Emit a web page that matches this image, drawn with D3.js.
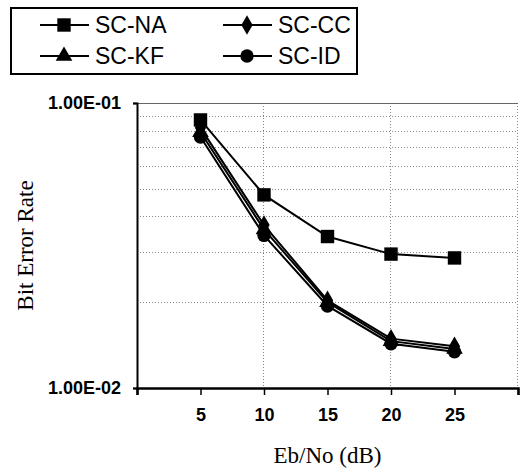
<!DOCTYPE html>
<html>
<head>
<meta charset="utf-8">
<script src="https://cdn.jsdelivr.net/npm/d3@7/dist/d3.min.js"></script>
<style>
  body { margin: 0; background: #fff; }
  svg { display: block; }
</style>
</head>
<body>
<script>
// Eb/No points
const ebno = [5, 10, 15, 20, 25];

// bit error rate per scheme
const scNA = [0.0872, 0.0476, 0.0340, 0.0295, 0.0286];
const scCC = [0.0818, 0.0373, 0.0203, 0.0149, 0.0140];
const scKF = [0.0790, 0.0360, 0.0200, 0.0146, 0.0137];
const scID = [0.0760, 0.0343, 0.0194, 0.0143, 0.0134];

const seriesNames = ['SC-NA', 'SC-CC', 'SC-KF', 'SC-ID'];
const seriesValues = [scNA, scCC, scKF, scID];
const markerTypes = [d3.symbolSquare, d3.symbolDiamond, d3.symbolTriangle, d3.symbolCircle];
const markerSizes = [180, 110, 120, 140];

const yTickLabels = ['1.00E-01', '1.00E-02'];

const width = 521, height = 470;
const margin = { left: 137, right: 3, top: 103, bottom: 82 };

const svg = d3.select('body').append('svg')
    .attr('width', width)
    .attr('height', height);

const x = d3.scaleLinear()
    .domain([0, 30])
    .range([margin.left, width - margin.right]);

const y = d3.scaleLog()
    .domain([0.01, 0.1])
    .range([height - margin.bottom, margin.top]);

// minor horizontal gridlines
const minorVals = d3.range(2, 10).map(d => d * 0.01);
svg.append('g')
    .selectAll('line')
    .data(minorVals)
    .join('line')
    .attr('x1', x(0))
    .attr('x2', x(30))
    .attr('y1', d => Math.round(y(d)) + 0.5)
    .attr('y2', d => Math.round(y(d)) + 0.5)
    .style('stroke', '#888')
    .style('stroke-width', 1)
    .style('stroke-dasharray', '1,2');

// vertical gridlines
svg.append('g')
    .selectAll('line')
    .data([10, 20, 30])
    .join('line')
    .attr('x1', d => Math.round(x(d)) - 0.5)
    .attr('x2', d => Math.round(x(d)) - 0.5)
    .attr('y1', y(0.1))
    .attr('y2', y(0.01))
    .style('stroke', '#888')
    .style('stroke-width', 1)
    .style('stroke-dasharray', '1,2');

// top border
svg.append('line')
    .attr('x1', x(0))
    .attr('x2', x(30))
    .attr('y1', y(0.1) + 0.5)
    .attr('y2', y(0.1) + 0.5)
    .style('stroke', '#666')
    .style('stroke-width', 1);

// x axis
const xAxis = svg.append('g')
    .attr('transform', `translate(0,${y(0.01)})`)
    .call(d3.axisBottom(x)
        .tickValues([0, 5, 10, 15, 20, 25, 30])
        .tickFormat(d => (d === 0 || d === 30) ? '' : d)
        .tickSize(7)
        .tickPadding(13));
xAxis.select('.domain').style('stroke', '#000').style('stroke-width', 2.5);
xAxis.selectAll('.tick line').style('stroke', '#000').style('stroke-width', 1.5);
xAxis.selectAll('.tick text')
    .style('font-family', '"Liberation Sans", Arial, sans-serif')
    .style('font-weight', 'bold')
    .style('font-size', '18px')
    .style('fill', '#000');

// y axis
const yAxis = svg.append('g')
    .attr('transform', `translate(${x(0)},0)`)
    .call(d3.axisLeft(y)
        .tickValues([0.1, 0.01])
        .tickFormat((d, i) => yTickLabels[i])
        .tickSize(4)
        .tickPadding(12));
yAxis.select('.domain').style('stroke', '#000').style('stroke-width', 2);
yAxis.selectAll('.tick line').style('stroke', '#000').style('stroke-width', 1.5);
yAxis.selectAll('.tick text')
    .style('font-family', '"Liberation Sans", Arial, sans-serif')
    .style('font-weight', 'bold')
    .style('font-size', '18px')
    .style('fill', '#000');

// series lines and markers
const line = d3.line()
    .x((d, i) => x(ebno[i]))
    .y(d => y(d));

seriesValues.forEach((vals, s) => {
    svg.append('path')
        .datum(vals)
        .attr('d', line)
        .style('fill', 'none')
        .style('stroke', '#000')
        .style('stroke-width', 2);
    svg.append('g')
        .selectAll('path')
        .data(vals)
        .join('path')
        .attr('transform', (d, i) => `translate(${x(ebno[i])},${y(d)})`)
        .attr('d', d3.symbol().type(markerTypes[s]).size(markerSizes[s]))
        .style('fill', '#000');
});

// axis titles
svg.append('text')
    .attr('x', (x(0) + x(30)) / 2)
    .attr('y', 463)
    .attr('text-anchor', 'middle')
    .style('font-family', '"Liberation Serif", "Times New Roman", serif')
    .style('font-size', '23px')
    .text('Eb/No (dB)');

svg.append('text')
    .attr('transform', `translate(33,${(y(0.1) + y(0.01)) / 2}) rotate(-90)`)
    .attr('text-anchor', 'middle')
    .style('font-family', '"Liberation Serif", "Times New Roman", serif')
    .style('font-size', '23px')
    .text('Bit Error Rate');

// legend
const legend = svg.append('g');
legend.append('rect')
    .attr('x', 11)
    .attr('y', 8)
    .attr('width', 346)
    .attr('height', 66)
    .style('fill', '#fff')
    .style('stroke', '#000')
    .style('stroke-width', 2);

const legendCols = [40, 223];
const legendRows = [25, 56];

seriesNames.forEach((name, s) => {
    const lx = legendCols[s % 2];
    const ly = legendRows[Math.floor(s / 2)];
    legend.append('line')
        .attr('x1', lx)
        .attr('x2', lx + 49)
        .attr('y1', ly)
        .attr('y2', ly)
        .style('stroke', '#000')
        .style('stroke-width', 2);
    legend.append('path')
        .attr('transform', `translate(${lx + 24},${ly})`)
        .attr('d', d3.symbol().type(markerTypes[s]).size(markerSizes[s]))
        .style('fill', '#000');
    legend.append('text')
        .attr('x', lx + 55)
        .attr('y', ly)
        .attr('dy', '0.36em')
        .style('font-family', '"Liberation Sans", Arial, sans-serif')
        .style('font-size', '23px')
        .text(name);
});
</script>
</body>
</html>
